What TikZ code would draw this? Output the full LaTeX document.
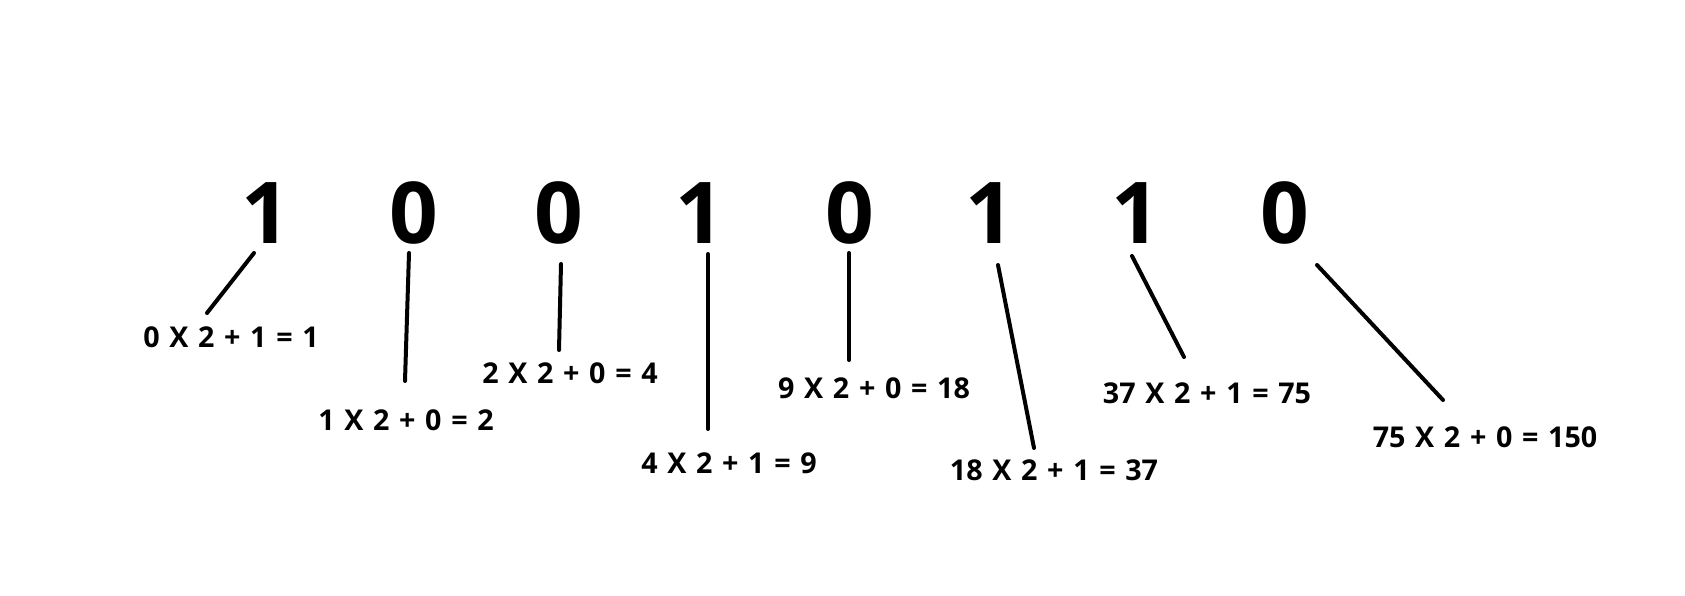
\documentclass[tikz,border=0pt]{standalone}
\usepackage{fontspec}
\setmainfont{Open Sans}
\newfontfamily\calcfont[WordSpace=1.3]{Open Sans}
\begin{document}
\begin{tikzpicture}[x=0.75pt,y=-0.75pt,
  bit/.style={inner sep=0pt,anchor=base,font=\fontsize{64}{64}\selectfont\bfseries},
  calc/.style={inner sep=0pt,anchor=base,font=\calcfont\fontsize{21.5}{22}\selectfont\bfseries},
  link/.style={line width=3pt,line cap=round}]
\useasboundingbox[fill=white] (0,0) rectangle (1685,596);
% bits
\node[bit] (d1) at (266,243) {1};
\node[bit] (d2) at (414,243) {0};
\node[bit] (d3) at (559,243) {0};
\node[bit] (d4) at (700,243) {1};
\node[bit] (d5) at (850,243) {0};
\node[bit] (d6) at (990,243) {1};
\node[bit] (d7) at (1136,243) {1};
\node[bit] (d8) at (1285,243) {0};
% labels
\node[calc] (c1) at (231,347) {0 X 2 + 1 = 1};
\node[calc] (c2) at (406,430) {1 X 2 + 0 = 2};
\node[calc] (c3) at (570,383) {2 X 2 + 0 = 4};
\node[calc] (c4) at (729,473) {4 X 2 + 1 = 9};
\node[calc] (c5) at (874,398) {9 X 2 + 0 = 18};
\node[calc] (c6) at (1054,480) {18 X 2 + 1 = 37};
\node[calc] (c7) at (1207,403) {37 X 2 + 1 = 75};
\node[calc] (c8) at (1485,447) {75 X 2 + 0 = 150};
% connector ends
\coordinate (t1) at (254,253); \coordinate (b1) at (207,313);
\coordinate (t2) at (409,253); \coordinate (b2) at (405,381);
\coordinate (t3) at (561,264); \coordinate (b3) at (559,350);
\coordinate (t4) at (708,254); \coordinate (b4) at (708,429);
\coordinate (t5) at (849,253); \coordinate (b5) at (849,360);
\coordinate (t6) at (998,265); \coordinate (b6) at (1034,448);
\coordinate (t7) at (1132,256); \coordinate (b7) at (1184,357);
\coordinate (t8) at (1317,265); \coordinate (b8) at (1443,400);
\foreach \i in {1,...,8} \draw[link] (t\i) -- (b\i);
\end{tikzpicture}
\end{document}
